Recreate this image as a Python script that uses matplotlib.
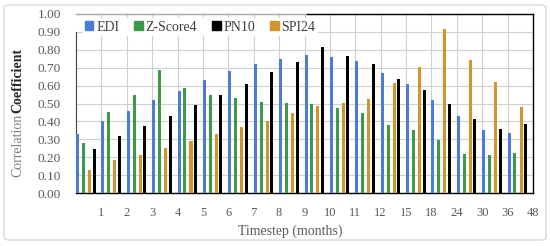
import numpy as np
import matplotlib
matplotlib.use('Agg')
import matplotlib.pyplot as plt
from matplotlib.patches import FancyBboxPatch, Patch

# timestep labels (months)
labels = ['1', '2', '3', '4', '5', '6', '7', '8', '9', '10', '11', '12',
          '15', '18', '24', '30', '36', '48']

edi = [0.33, 0.40, 0.46, 0.52, 0.57, 0.63, 0.68, 0.72, 0.75, 0.77, 0.76, 0.74,
       0.67, 0.61, 0.52, 0.43, 0.35, 0.335]
zscore4 = [0.28, 0.45, 0.55, 0.685, 0.585, 0.55, 0.53, 0.51, 0.505, 0.495, 0.475, 0.445,
           0.38, 0.35, 0.295, 0.22, 0.21, 0.225]
pn10 = [0.245, 0.32, 0.375, 0.43, 0.49, 0.546, 0.61, 0.675, 0.73, 0.815, 0.765, 0.72,
        0.635, 0.575, 0.50, 0.415, 0.36, 0.385]
spi24 = [0.127, 0.185, 0.213, 0.25, 0.288, 0.33, 0.37, 0.405, 0.446, 0.485, 0.505, 0.526,
         0.613, 0.706, 0.914, 0.743, 0.622, 0.48]

c_blue = '#4a7cd8'
c_green = '#3d9a4a'
c_black = '#000000'
c_orange = '#d4942c'

plt.rcParams['font.family'] = ['Liberation Serif', 'DejaVu Serif']

fig = plt.figure(figsize=(5.5, 2.46), dpi=100)
ax = fig.add_axes([76/550, 1 - 193/246, (533 - 76)/550, (193 - 14)/246])

x = np.arange(len(labels))
w = 0.12
ax.bar(x + 0.06, edi, w, color=c_blue, zorder=3)
ax.bar(x + 0.29, zscore4, w, color=c_green, zorder=3)
ax.bar(x + 0.53, spi24, w, color=c_orange, zorder=3)
ax.bar(x + 0.71, pn10, w, color=c_black, zorder=3)

ax.set_xlim(0, len(labels))
ax.set_ylim(0, 1.0)
yt = np.arange(0, 1.01, 0.1)
ax.set_yticks(yt)
ax.set_yticklabels(['%.2f' % v for v in yt])
ax.set_xticks(x + 1)
ax.set_xticklabels(labels)
ax.tick_params(axis='both', length=0, colors='#595959')
ax.tick_params(axis='x', pad=10, labelsize=9)
ax.tick_params(axis='y', pad=11, labelsize=9.5)

ax.grid(True, color='#d0d0d0', linewidth=0.8, zorder=0)
for s in ['right', 'bottom']:
    ax.spines[s].set_color('#000000')
    ax.spines[s].set_linewidth(1.0)
ax.spines['left'].set_color('#404040')
ax.spines['left'].set_bounds(0, 0.9)
ax.spines['top'].set_visible(False)
# top border: grey over the legend, black afterwards
ax.plot([0, 0.505], [1, 1], transform=ax.transAxes, color='#a6a6a6', lw=1.0,
        clip_on=False, zorder=6)
ax.plot([0.505, 1], [1, 1], transform=ax.transAxes, color='#000000', lw=1.0,
        clip_on=False, zorder=6)

ax.set_xlabel('Timestep (months)', fontsize=10, color='#595959', va='center')
ax.xaxis.set_label_coords((290 - 76)/(533 - 76), -(231 - 193)/(193 - 14))

fig.text(18/550, (246 - 145)/246, 'Correlation', rotation=90, fontsize=10,
         color='#7f7f7f', ha='center', va='center')
fig.text(18/550, (246 - 80)/246, 'Coefficient', rotation=90, fontsize=10,
         color='#262626', ha='center', va='center', fontweight='bold')

# legend in the order shown in the reference
handles = [Patch(color=c_blue), Patch(color=c_green), Patch(color=c_black), Patch(color=c_orange)]
leg = ax.legend(handles, ['EDI', 'Z-Score4', 'PN10', 'SPI24'], loc='upper left',
                bbox_to_anchor=(0.015, 0.975), ncol=4, frameon=True, fontsize=10,
                handlelength=0.6, handleheight=0.6, handletextpad=0.2,
                columnspacing=1.1, borderpad=0.15, borderaxespad=0)
leg.get_frame().set_facecolor('white')
leg.get_frame().set_edgecolor('none')
leg.get_frame().set_alpha(1)
leg.set_zorder(5)
for t in leg.get_texts():
    t.set_color('#404040')

# outer chart frame
fig.patches.append(FancyBboxPatch((4/550, 6/246), 542/550, 235/246,
                                  boxstyle='round,pad=0,rounding_size=0.01',
                                  transform=fig.transFigure, facecolor='none',
                                  edgecolor='#d9d9d9', linewidth=1.0))

fig.savefig('out.png', dpi=100)
